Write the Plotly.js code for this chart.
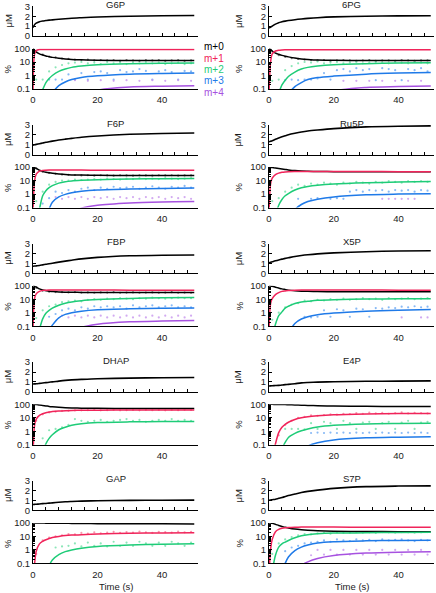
<!DOCTYPE html>
<html>
<head>
<meta charset="utf-8">
<script src="https://cdn.plot.ly/plotly-3.0.1.min.js"></script>
<style>body{margin:0;background:#fff}#chart{width:436px;height:593px}</style>
</head>
<body>
<div id="chart"></div>
<script>
// time grids (s): fitted curves and sampled measurements
const tFit = [0, 0.5, 1, 2, 3, 4, 5, 6, 8, 10, 12, 15, 20, 30, 40, 50];
const tObs = [1, 3, 5, 7, 9, 11, 13, 15, 17, 19, 21, 23, 25, 27, 29, 31, 33, 35, 37, 39, 41, 43, 45, 47, 49];

const names = ["G6P", "6PG", "F6P", "Ru5P", "FBP", "X5P", "DHAP", "E4P", "GAP", "S7P"];
const isoLabels = ["m+0", "m+1", "m+2", "m+3", "m+4"];
const isoColors = ["#000000", "#f0245a", "#1fcc78", "#1f7ae8", "#a752e0"];
const dotColors = ["#555555", "#f77a99", "#6fe0a6", "#6aa8f2", "#c795ee"];

// concentration (uM) and label fractions (%) at tFit
const g6pConc = [0.85, 1.15, 1.3, 1.45, 1.52, 1.56, 1.6, 1.63, 1.69, 1.75, 1.8, 1.85, 1.92, 2.0, 2.04, 2.07];
const g6pM0 = [99, 75, 55, 40, 33, 28, 25, 22, 19, 17, 15.5, 14.5, 13.5, 13, 13, 13];
const g6pM1 = [0.05, 40, 70, 83, 85, 86, 86, 86, 86, 86, 86, 86, 85, 85, 85, 85];
const g6pM2 = [0.01, 0.01, 0.01, 0.03, 0.09, 0.3, 0.6, 1.0, 2.0, 3.0, 4.0, 5.0, 6.3, 7.5, 8.0, 8.3];
const g6pM3 = [0.01, 0.01, 0.01, 0.01, 0.01, 0.01, 0.02, 0.05, 0.18, 0.33, 0.5, 0.72, 0.95, 1.25, 1.4, 1.5];
const g6pM4 = [0.01, 0.01, 0.01, 0.01, 0.01, 0.01, 0.01, 0.01, 0.01, 0.01, 0.01, 0.02, 0.08, 0.14, 0.16, 0.175];

const pg6Conc = [0.8, 0.9, 1.0, 1.2, 1.35, 1.43, 1.5, 1.56, 1.65, 1.72, 1.78, 1.85, 1.93, 2.0, 2.03, 2.05];
const pg6M0 = [99, 85, 65, 45, 37, 31, 27, 24, 19.5, 17, 15.5, 14, 13.5, 13, 13, 13];
const pg6M1 = [0.05, 10, 40, 65, 75, 79, 81, 82, 82, 82, 82, 82, 81, 80, 80, 80];
const pg6M2 = [0.01, 0.01, 0.01, 0.01, 0.05, 0.2, 0.45, 0.85, 1.8, 3.0, 4.0, 5.0, 6.2, 7.5, 8.3, 8.8];
const pg6M3 = [0.01, 0.01, 0.01, 0.01, 0.01, 0.01, 0.01, 0.04, 0.15, 0.3, 0.5, 0.7, 0.9, 1.25, 1.5, 1.7];
const pg6M4 = [0.01, 0.01, 0.01, 0.01, 0.01, 0.01, 0.01, 0.01, 0.01, 0.01, 0.01, 0.02, 0.07, 0.13, 0.15, 0.165];

const f6pConc = [0.95, 0.99, 1.03, 1.1, 1.17, 1.24, 1.3, 1.36, 1.47, 1.56, 1.64, 1.75, 1.88, 2.05, 2.13, 2.18];
const f6pM0 = [99, 90, 80, 58, 48, 42, 38, 35, 31, 28, 26.5, 25.5, 24.5, 24, 24, 24];
const f6pM1 = [0.05, 10, 30, 50, 57, 59, 60, 60, 60, 60, 60, 60, 59, 59, 58, 58];
const f6pM2 = [0.01, 0.01, 0.01, 0.08, 0.75, 1.8, 3.0, 4.2, 6.5, 8.3, 9.5, 10.5, 11.8, 13, 13.8, 14.2];
const f6pM3 = [0.01, 0.01, 0.01, 0.01, 0.01, 0.02, 0.08, 0.25, 0.62, 0.95, 1.25, 1.6, 2.0, 2.4, 2.65, 2.8];
const f6pM4 = [0.01, 0.01, 0.01, 0.01, 0.01, 0.01, 0.01, 0.01, 0.01, 0.02, 0.04, 0.09, 0.15, 0.22, 0.26, 0.28];

const ru5pConc = [1.3, 1.35, 1.4, 1.55, 1.68, 1.8, 1.9, 2.0, 2.15, 2.28, 2.38, 2.48, 2.62, 2.8, 2.87, 2.9];
const ru5pM0 = [99, 95, 92, 85, 78, 72, 67, 62, 55, 51, 49, 47, 46, 45.5, 45, 45];
const ru5pM1 = [0.05, 6, 15, 28, 36, 41, 44, 46, 47, 47, 47, 47, 47, 47, 46, 46];
const ru5pM2 = [0.01, 0.01, 0.01, 0.03, 0.15, 0.4, 0.75, 1.1, 2.0, 3.0, 3.7, 4.5, 5.5, 6.8, 7.8, 8.5];
const ru5pM3 = [0.01, 0.01, 0.01, 0.01, 0.01, 0.01, 0.01, 0.01, 0.07, 0.17, 0.28, 0.42, 0.62, 0.88, 1.0, 1.08];

const fbpConc = [0.7, 0.72, 0.74, 0.78, 0.84, 0.9, 0.95, 1.01, 1.12, 1.22, 1.31, 1.45, 1.6, 1.76, 1.82, 1.84];
const fbpM0 = [99, 90, 80, 58, 48, 43, 39, 37, 34, 33, 32.5, 32, 32, 31.5, 31, 31];
const fbpM1 = [0.05, 12, 25, 38, 45, 47, 48, 48, 48, 48, 48, 48, 48, 47, 47, 47];
const fbpM2 = [0.01, 0.01, 0.01, 0.06, 0.35, 0.9, 1.5, 2.2, 3.6, 5.0, 6.3, 7.8, 9.5, 11.5, 12.6, 13.3];
const fbpM3 = [0.01, 0.01, 0.01, 0.01, 0.01, 0.01, 0.05, 0.12, 0.42, 0.75, 1.0, 1.3, 1.65, 1.95, 2.1, 2.2];
const fbpM4 = [0.01, 0.01, 0.01, 0.01, 0.01, 0.01, 0.01, 0.01, 0.01, 0.01, 0.03, 0.08, 0.14, 0.21, 0.24, 0.26];

const x5pConc = [1.05, 1.1, 1.15, 1.25, 1.34, 1.42, 1.5, 1.56, 1.68, 1.78, 1.86, 1.95, 2.05, 2.17, 2.24, 2.27];
const x5pM0 = [99, 95, 90, 78, 67, 58, 52, 47, 42, 39, 38, 37, 36, 35.5, 35, 35];
const x5pM1 = [0.05, 5, 11, 22, 31, 38, 41, 44, 47, 48, 48, 48, 48, 48, 47, 47];
const x5pM2 = [0.01, 0.01, 0.02, 0.14, 0.6, 1.15, 2.2, 3.0, 4.8, 6.2, 7.0, 8.2, 9.2, 10.2, 10.8, 11];
const x5pM3 = [0.01, 0.01, 0.01, 0.01, 0.01, 0.01, 0.01, 0.03, 0.16, 0.34, 0.5, 0.7, 0.95, 1.3, 1.55, 1.7];

const dhapConc = [0.78, 0.8, 0.81, 0.85, 0.89, 0.93, 0.97, 1.0, 1.08, 1.15, 1.2, 1.25, 1.32, 1.38, 1.42, 1.44];
const dhapM0 = [100, 98, 96, 88, 82, 76, 70, 66, 60, 56, 54, 52, 50, 49, 48, 48];
const dhapM1 = [0.01, 3, 8, 15, 20, 24, 26.5, 29, 32, 34, 35, 36, 37, 37.5, 38, 38];
const dhapM2 = [0.01, 0.01, 0.01, 0.01, 0.03, 0.12, 0.3, 0.55, 1.3, 2.0, 2.8, 3.6, 4.4, 5.0, 5.3, 5.4];

const e4pConc = [0.58, 0.6, 0.61, 0.63, 0.65, 0.68, 0.72, 0.75, 0.82, 0.9, 0.94, 0.98, 1.02, 1.06, 1.08, 1.1];
const e4pM0 = [100, 100, 99, 98, 97, 96, 95, 93, 89, 85, 82, 79, 75, 71, 69, 68];
const e4pM1 = [0.01, 0.01, 0.01, 0.12, 0.8, 2.0, 3.3, 4.7, 7.5, 10, 12, 14, 16.5, 19, 20.5, 21];
const e4pM2 = [0.01, 0.01, 0.01, 0.01, 0.01, 0.05, 0.15, 0.35, 0.7, 1.1, 1.5, 2.1, 2.8, 3.5, 3.8, 4.0];
const e4pM3 = [0.01, 0.01, 0.01, 0.01, 0.01, 0.01, 0.01, 0.01, 0.01, 0.03, 0.08, 0.14, 0.23, 0.33, 0.37, 0.4];

const gapConc = [0.6, 0.61, 0.62, 0.65, 0.68, 0.7, 0.73, 0.76, 0.82, 0.87, 0.9, 0.94, 0.98, 1.01, 1.03, 1.04];
const gapM0 = [100, 99, 99, 98, 97, 96, 95, 94, 93.5, 93, 92, 90, 88, 86, 85, 84];
const gapM1 = [0.01, 0.1, 0.8, 2.8, 4.3, 5.7, 7, 8.2, 10, 11.5, 12.5, 13.5, 15, 17, 18, 18.5];
const gapM2 = [0.01, 0.01, 0.01, 0.01, 0.01, 0.02, 0.07, 0.18, 0.45, 0.75, 1.0, 1.35, 1.8, 2.3, 2.6, 2.8];

const s7pConc = [1.03, 1.05, 1.08, 1.13, 1.22, 1.3, 1.4, 1.5, 1.65, 1.8, 1.92, 2.05, 2.22, 2.4, 2.46, 2.48];
const s7pM0 = [100, 97, 92, 78, 65, 55, 47, 42, 35, 31, 28.5, 26, 24, 23, 22.5, 22];
const s7pM1 = [0.01, 1.2, 6, 22, 33, 40, 44, 46, 48, 49, 49, 49, 49, 48, 48, 48];
const s7pM2 = [0.01, 0.01, 0.03, 0.4, 1.6, 2.8, 3.8, 5, 8, 11, 13.5, 15.5, 17.5, 19, 19.5, 20];
const s7pM3 = [0.01, 0.01, 0.01, 0.01, 0.01, 0.02, 0.1, 0.3, 0.9, 1.6, 2.3, 3.3, 4.1, 4.7, 5.0, 5.1];
const s7pM4 = [0.01, 0.01, 0.01, 0.01, 0.01, 0.01, 0.01, 0.01, 0.01, 0.07, 0.13, 0.23, 0.38, 0.58, 0.68, 0.72];

// measured fractions (%) at tObs, null where nothing shows
const g6pObsM0 = [60, 35, 25, 22, 18, 17, 15, 14, 15, 13, 14, 13, 14, 12, 14, 13, 12, 14, 13, 14, 12, 13, 14, 12, 13];
const g6pObsM2 = [0.5, 0.5, 2, 4, 6, 8, 9, 10, 8, 9, 7, 10, 8, 9, 7, 9, 8, 10, 8, 9, 7, 8, 9, 7, 8];
const g6pObsM3 = [null, null, 0.5, 0.5, 0.5, 1.2, 0.5, 1.5, 0.5, 1.8, 2, 1.5, 0.5, 2.5, 1.8, 2, 3, 2.2, 0.5, 2, 2.5, 1.8, 0.5, 2.2, 2];
const g6pObsM4 = [null, null, null, null, null, null, 0.45, null, 0.4, null, 0.45, null, 0.4, null, 0.45, null, 0.4, null, 0.45, null, 0.4, null, 0.45, null, 0.4];

const pg6ObsM0 = [60, 32, 24, 19, 17, 15, 14, 13, 14, 12, 13, 14, 13, 12, 13, 14, 12, 13, 13, 12, 14, 13, 12, 13, 13];
const pg6ObsM2 = [0.4, 0.5, 2.5, 5, 8, 10, 9, 11, 8, 9, 10, 8, 9, 10, 8, 9, 10, 9, 8, 10, 9, 8, 10, 9, 8];
const pg6ObsM3 = [null, null, 0.45, 0.5, 0.45, 0.5, 0.5, 0.6, 1.5, 0.5, 2.5, 3, 2, 3.5, 2.5, 3, 0.45, 3.5, 3, 2.5, 0.45, 3, 2.5, 3.5, 2];
const pg6ObsM4 = [null, null, null, null, null, null, null, null, null, null, null, 0.4, null, 0.4, null, 0.4, null, 0.4, null, 0.4, null, 0.4, null, 0.4, null];

const f6pObsM0 = [80, 45, 37, 32, 28, 27, 26, 24, 25, 23, 25, 24, 23, 25, 24, 23, 25, 24, 23, 25, 24, 25, 23, 24, 24];
const f6pObsM2 = [0.3, 1.5, 5, 8, 10, 10, 12, 11, 12, 13, 12, 14, 13, 12, 14, 13, 15, 13, 14, 13, 15, 14, 13, 14, 15];
const f6pObsM3 = [null, 0.2, 0.5, 1.5, 1.2, 2, 1.5, 2.5, 3, 2, 3, 2.5, 3.5, 2.8, 3, 3.5, 2.5, 3, 3.8, 3, 2.5, 3.5, 3, 4, 3];
const f6pObsM4 = [null, null, null, 0.6, 0.45, 0.6, 0.45, 0.6, 0.45, 0.6, 0.5, 0.6, 0.45, 0.6, 0.5, 0.6, 0.45, 0.6, 0.5, 0.6, 0.45, 0.6, 0.5, 0.6, 0.45];

const ru5pObsM2 = [0.3, 0.5, 1.5, 3, 5, 4, 6, 5, 7, 6, 5, 7, 6, 8, 7, 6, 8, 7, 9, 8, 7, 9, 8, 9, 8];
const ru5pObsM3 = [null, null, null, null, 0.45, null, 0.45, 0.5, null, 0.45, 0.5, 0.45, 1.5, 2, 1.5, 2, 1.8, 2, 1.5, 2, 1.8, 2, 1.5, 2, 1.8];
const ru5pObsM4 = [null, null, null, null, null, null, null, null, null, null, null, null, null, null, null, null, null, 0.45, 0.45, 0.45, 0.45, 0.45, 0.45, null, null];

const fbpObsM0 = [70, 42, 36, 34, 33, 32, 33, 31, 32, 30, 32, 31, 33, 30, 31, 32, 30, 31, 32, 30, 31, 33, 30, 31, 30];
const fbpObsM2 = [0.4, 1.5, 3, 4, 6, 7, 8, 7, 9, 10, 9, 11, 10, 12, 11, 10, 12, 11, 13, 12, 11, 12, 13, 12, 12];
const fbpObsM3 = [null, null, 0.5, 0.8, 1.5, 2, 1.5, 2.5, 2, 3, 2.5, 3, 2.5, 3, 2, 3.5, 2.5, 3, 3.5, 2.5, 3, 3.5, 2.5, 3, 2.5];
const fbpObsM4 = [null, null, null, null, 0.6, 0.45, 0.6, 0.45, 0.6, 0.45, 0.6, 0.45, 0.6, 0.45, 0.6, 0.45, 0.6, 0.45, 0.6, 0.45, 0.6, 0.45, 0.6, 0.45, 0.6];

const x5pObsM2 = [0.3, 1, 2.5, 4, 5, 8, 7, 9, 8, 10, 9, 11, 9, 10, 12, 10, 11, 9, 12, 10, 11, 12, 10, 11, 12];
const x5pObsM3 = [null, null, null, null, null, 0.5, 0.45, 0.5, 1.5, 0.5, 1.8, 1.5, 0.5, 2, 1.8, 0.5, 2.2, 2, 2.5, 2.2, 2.8, 2.5, 3, 2.5, 2.8];
const x5pObsM4 = [null, null, null, null, null, null, null, null, null, null, null, null, null, null, null, null, null, null, null, null, 0.45, null, null, 0.45, 0.45];

const dhapObsM1 = [6, 18, 25, 28, 33, 33, 35, 36, 37, 38, 36, 37, 38, 36, 37, 38, 36, 39, 37, 38, 36, 38, 37, 39, 38];
const dhapObsM2 = [null, 0.3, 1.2, 1.5, 2, 3, 8, 6, 5, 6, 7, 5, 6, 7, 8, 6, 7, 5, 6, 7, 6, 8, 6, 7, 6];

const e4pObsM1 = [null, 0.5, 3, 6, 10, 12, 15, 14, 16, 18, 17, 20, 19, 22, 20, 24, 21, 23, 20, 22, 25, 21, 23, 22, 21];
const e4pObsM2 = [null, null, 1.5, 1.5, 1.5, 1.4, 4, 1.5, 5, 4, 1.5, 6, 4, 1.5, 4.5, 5, 1.5, 4, 5, 1.5, 4.5, 6, 1.5, 4.5, 5];
const e4pObsM3 = [null, null, null, null, null, null, 0.75, 0.8, 0.75, 0.8, 0.75, 0.8, 0.75, 0.8, 0.75, 0.8, 0.75, 0.8, 0.75, 0.8, 0.75, 0.8, 0.75, 0.8, 0.75];

const gapObsM1 = [0.5, 5, 8, 10, 12, 15, 14, 18, 16, 20, 17, 19, 22, 18, 21, 19, 23, 20, 18, 22, 21, 19, 23, 20, 22];
const gapObsM2 = [null, null, null, 1.5, 1.8, 2, 3, 1.8, 3.5, 2, 3, 1.8, 4, 2, 3.5, 2, 4, 3, 2, 3.5, 2, 4, 3, 2, 3.5];

const s7pObsM2 = [0.5, 3, 6, 9, 12, 15, 14, 17, 18, 16, 20, 18, 19, 21, 19, 20, 18, 21, 20, 19, 21, 20, 19, 20, 21];
const s7pObsM3 = [null, null, 0.8, 1.5, 2, 3, 3.5, 4, 5, 4, 6, 5, 4.5, 6, 5, 5.5, 4.5, 6, 5, 5.5, 6, 5, 4.5, 5.5, 5];
const s7pObsM4 = [null, null, null, null, null, null, 0.4, 1, 0.45, 1, 0.45, 1, 0.45, 1, 0.45, 1, 0.45, 1, 0.45, 1, 0.45, 1, 0.45, 1, 0.45];

const concs = [g6pConc, pg6Conc, f6pConc, ru5pConc, fbpConc, x5pConc, dhapConc, e4pConc, gapConc, s7pConc];
const fits = [
  [g6pM0, g6pM1, g6pM2, g6pM3, g6pM4],
  [pg6M0, pg6M1, pg6M2, pg6M3, pg6M4],
  [f6pM0, f6pM1, f6pM2, f6pM3, f6pM4],
  [ru5pM0, ru5pM1, ru5pM2, ru5pM3, null],
  [fbpM0, fbpM1, fbpM2, fbpM3, fbpM4],
  [x5pM0, x5pM1, x5pM2, x5pM3, null],
  [dhapM0, dhapM1, dhapM2, null, null],
  [e4pM0, e4pM1, e4pM2, e4pM3, null],
  [gapM0, gapM1, gapM2, null, null],
  [s7pM0, s7pM1, s7pM2, s7pM3, s7pM4]
];
const obs = [
  [g6pObsM0, null, g6pObsM2, g6pObsM3, g6pObsM4],
  [pg6ObsM0, null, pg6ObsM2, pg6ObsM3, pg6ObsM4],
  [f6pObsM0, null, f6pObsM2, f6pObsM3, f6pObsM4],
  [null, null, ru5pObsM2, ru5pObsM3, ru5pObsM4],
  [fbpObsM0, null, fbpObsM2, fbpObsM3, fbpObsM4],
  [null, null, x5pObsM2, x5pObsM3, x5pObsM4],
  [null, dhapObsM1, dhapObsM2, null, null],
  [null, e4pObsM1, e4pObsM2, e4pObsM3, null],
  [null, gapObsM1, gapObsM2, null, null],
  [null, null, s7pObsM2, s7pObsM3, s7pObsM4]
];

const W = 436, H = 593;
const FONT = "Liberation Sans, Arial, sans-serif";
const TXT = "#1a1a1a";
const px = x => x / W;
const py = y => 1 - y / H;

const data = [];
const layout = {
  width: W, height: H,
  margin: {l: 0, r: 0, t: 0, b: 0},
  paper_bgcolor: "#fff", plot_bgcolor: "#fff",
  showlegend: false,
  font: {family: FONT, size: 9, color: TXT},
  annotations: []
};

function ann(text, x, y, extra) {
  layout.annotations.push(Object.assign({
    text: text, x: px(x), y: py(y), xref: "paper", yref: "paper",
    showarrow: false, xanchor: "center", yanchor: "middle",
    font: {family: FONT, size: 9, color: TXT}
  }, extra || {}));
}

names.forEach((name, i) => {
  const r = Math.floor(i / 2), c = i % 2;
  const o = 118.6 * r;
  const a = 2 * i + 1, b = 2 * i + 2;
  const xd = c ? [px(269), px(434)] : [px(33), px(197.5)];
  const xc = c ? 351.5 : 115.5;
  const tickfont = {family: FONT, size: 9.5, color: TXT};

  const baseX = {
    domain: xd, range: [0, 51], showline: true, linecolor: "#000", linewidth: 1,
    zeroline: false, showgrid: false, ticks: "inside", ticklen: 3, tickcolor: "#000",
    fixedrange: true
  };
  layout["xaxis" + (a === 1 ? "" : a)] = Object.assign({}, baseX, {
    anchor: "y" + (a === 1 ? "" : a), dtick: 4, tick0: 0, showticklabels: false
  });
  layout["xaxis" + b] = Object.assign({}, baseX, {
    anchor: "y" + b, tickvals: [0, 20, 40], ticks: "", ticklabelstandoff: 2,
    tickfont: tickfont
  });
  layout["yaxis" + (a === 1 ? "" : a)] = {
    domain: [py(o + 36), py(o + 6.3)], anchor: "x" + (a === 1 ? "" : a),
    range: [0, 3], dtick: 1, showline: true, linecolor: "#000", linewidth: 1,
    zeroline: false, showgrid: false, ticks: "inside", ticklen: 3, tickcolor: "#000",
    tickfont: tickfont, fixedrange: true
  };
  layout["yaxis" + b] = {
    domain: [py(o + 89), py(o + 48.5)], anchor: "x" + b,
    type: "log", range: [-1, 2], dtick: 1, showline: true, linecolor: "#000", linewidth: 1,
    zeroline: false, showgrid: false, ticks: "inside", ticklen: 3, tickcolor: "#000",
    minor: {ticks: "inside", ticklen: 2, tickcolor: "#000", dtick: "D1", showgrid: false},
    tickfont: tickfont, fixedrange: true
  };

  const xa = "x" + (a === 1 ? "" : a), ya = "y" + (a === 1 ? "" : a);
  data.push({
    x: tFit, y: concs[i], xaxis: xa, yaxis: ya, mode: "lines",
    line: {color: "#000", width: 1.6, shape: "spline", smoothing: 0.8}
  });

  obs[i].forEach((vals, k) => {
    if (!vals) return;
    data.push({
      x: tObs, y: vals, xaxis: "x" + b, yaxis: "y" + b, mode: "markers",
      marker: {color: dotColors[k], size: 2.2, opacity: 0.8}
    });
  });
  fits[i].forEach((vals, k) => {
    if (!vals) return;
    data.push({
      x: tFit, y: vals, xaxis: "x" + b, yaxis: "y" + b, mode: "lines",
      line: {color: isoColors[k], width: 1.5, shape: "spline", smoothing: 0.8}
    });
  });

  ann(name, xc, o + 4.5, {font: {family: FONT, size: 9.5, color: TXT}});
  ann("\u03bcM", c ? 238 : 7.5, o + 21, {textangle: -90, font: {family: FONT, size: 9.5, color: TXT}});
  ann("%", c ? 239 : 7.5, o + 69, {textangle: -90, font: {family: FONT, size: 9.5, color: TXT}});
});

ann("Time (s)", 115.5, 586, {font: {family: FONT, size: 9.5, color: TXT}});
ann("Time (s)", 351.5, 586, {font: {family: FONT, size: 9.5, color: TXT}});

isoLabels.forEach((lab, k) => {
  ann(lab, 202, 47 + k * 11.3, {xanchor: "left", font: {family: FONT, size: 10, color: isoColors[k]}});
});

Plotly.newPlot("chart", data, layout, {displayModeBar: false, staticPlot: true});
</script>
</body>
</html>
